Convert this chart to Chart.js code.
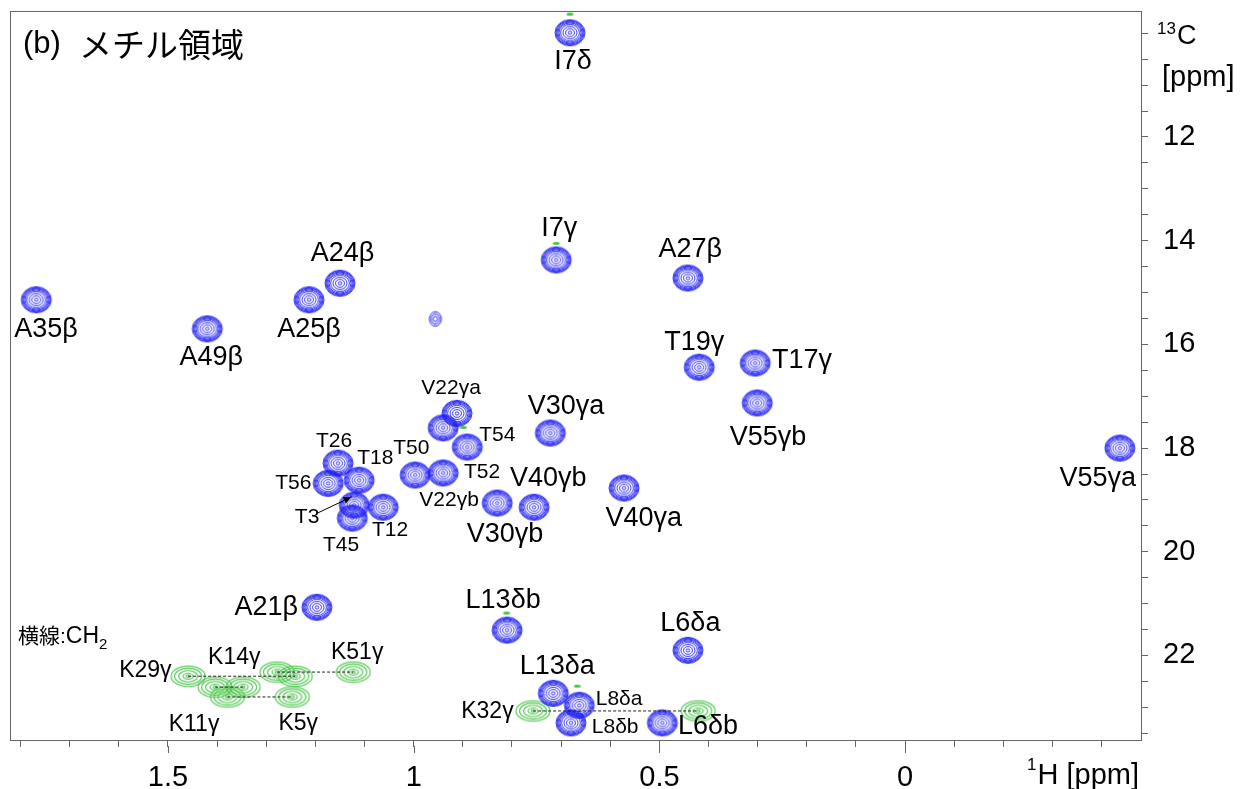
<!DOCTYPE html>
<html>
<head>
<meta charset="utf-8">
<script src="https://cdn.jsdelivr.net/npm/chart.js@4.4.0/dist/chart.umd.min.js"></script>
<style>
  body { margin: 0; background: #fff; }
  #wrap { width: 1242px; height: 789px; }
</style>
</head>
<body>
<div id="wrap"><canvas id="spectrum"></canvas></div>
<script>
// methyl (CH3) cross peaks, 1H / 13C in ppm
const ch3H = [0.682, 0.710, 0.442, 1.150, 1.213, 1.768, 1.420, 0.419, 0.305, 0.301,
              0.722, -0.437, 0.912, 0.940, 0.891, 0.940, 0.997, 1.154, 1.174, 1.111,
              1.121, 1.125, 1.062, 0.830, 0.755, 0.572, 1.197, 0.810, 0.442, 0.716,
              0.663, 0.680, 0.494];
const ch3C = [9.99, 14.37, 14.72, 14.82, 15.14, 15.14, 15.70, 16.44, 16.36, 17.13,
              17.71, 18.00, 17.33, 17.61, 17.98, 18.48, 18.52, 18.29, 18.68, 18.62,
              19.10, 19.35, 19.14, 19.06, 19.14, 18.77, 21.07, 21.51, 21.90, 22.73,
              22.96, 23.30, 23.30];

// weak unassigned peak
const weakH = [0.956];
const weakC = [15.51];

// CH2 peaks (opposite sign), each pair joined by a dashed line
const ch2H1 = [1.459, 1.404, 1.379, 1.278, 0.757];
const ch2H2 = [1.241, 1.347, 1.247, 1.123, 0.421];
const ch2C  = [22.40, 22.61, 22.80, 22.32, 23.07];

// tiny negative specks next to some peaks
const speckH = [0.682, 0.710, 0.811, 0.667, 0.899];
const speckC = [9.63, 14.05, 21.18, 22.59, 17.60];

// assignments: [text, 1H, 13C]
const bigLabels = [
  ['I7δ', 0.676, 10.55], ['I7γ', 0.704, 13.76], ['A27β', 0.437, 14.18],
  ['A24β', 1.145, 14.24], ['A25β', 1.213, 15.72], ['A35β', 1.748, 15.72],
  ['A49β', 1.412, 16.26], ['T19γ', 0.429, 15.97], ['T17γ', 0.210, 16.32],
  ['V55γb', 0.279, 17.79], ['V30γa', 0.690, 17.19], ['V55γa', -0.392, 18.58],
  ['V40γb', 0.726, 18.58], ['V30γb', 0.814, 19.66], ['V40γa', 0.532, 19.35],
  ['A21β', 1.300, 21.07], ['L13δb', 0.818, 20.95], ['L6δa', 0.437, 21.38],
  ['L13δa', 0.708, 22.21], ['L6δb', 0.401, 23.38]
];
const midLabels = [
  ['K32γ', 0.850, 23.09], ['K29γ', 1.546, 22.30], ['K14γ', 1.365, 22.05],
  ['K11γ', 1.447, 23.34], ['K5γ', 1.235, 23.31], ['K51γ', 1.115, 21.94]
];
const smallLabels = [
  ['V22γa', 0.924, 16.84], ['T54', 0.830, 17.75], ['T50', 1.005, 18.00],
  ['T52', 0.861, 18.46], ['V22γb', 0.928, 19.00], ['T26', 1.162, 17.87],
  ['T18', 1.078, 18.19], ['T56', 1.245, 18.68], ['T3', 1.217, 19.33],
  ['T45', 1.148, 19.87], ['T12', 1.048, 19.58], ['L8δa', 0.582, 22.84],
  ['L8δb', 0.590, 23.38]
];
// arrow from the T3 label to its peak: [h0, c0, h1, c1]
const t3Arrow = [1.195, 19.25, 1.126, 18.94];

const hTicks = [1.5, 1, 0.5, 0];
const cTicks = [12, 14, 16, 18, 20, 22];

const FONT = '"Liberation Sans", Arial, "Noto Sans CJK JP", sans-serif';
const BLUE = '#1e1ef5';
const GREEN = '#46c446';

function contourSprite(color, radii, ratio, lw) {
  const c = document.createElement('canvas');
  c.width = Math.ceil(radii[0] * 2 + 4);
  c.height = Math.ceil(radii[0] * ratio * 2 + 4);
  const g = c.getContext('2d');
  g.strokeStyle = color;
  g.lineWidth = lw;
  radii.forEach(r => {
    g.beginPath();
    g.ellipse(c.width / 2, c.height / 2, r, r * ratio, 0, 0, Math.PI * 2);
    g.stroke();
  });
  return c;
}

function speckSprite() {
  const c = document.createElement('canvas');
  c.width = 10; c.height = 5;
  const g = c.getContext('2d');
  g.fillStyle = GREEN;
  g.beginPath();
  g.ellipse(5, 2.5, 3.5, 1.5, 0, 0, Math.PI * 2);
  g.fill();
  return c;
}

const blueSprite = contourSprite(BLUE, [15, 14.1, 13.2, 12.2, 11, 9.4, 7, 4.5, 1.8], 0.87, 0.9);
const weakSprite = contourSprite(BLUE, [6, 4.2, 2.2], 1.2, 1);
const greenSprite = contourSprite(GREEN, [17, 13.5, 9.5, 5, 2], 0.6, 1.1);

const toPts = (hs, cs) => hs.map((h, i) => ({ x: h, y: cs[i] }));

const pairLines = ch2C.map((c, i) => ({
  type: 'line',
  data: [{ x: ch2H1[i], y: c }, { x: ch2H2[i], y: c }],
  borderColor: '#222',
  borderWidth: 1,
  borderDash: [3, 2],
  pointRadius: 0,
  showLine: true,
  order: 0
}));

const annotations = {
  id: 'annotations',
  afterDatasetsDraw(chart) {
    const { ctx, chartArea: a, scales: { x, y } } = chart;
    ctx.save();
    ctx.fillStyle = '#000';
    ctx.textAlign = 'center';
    ctx.textBaseline = 'middle';
    const put = (list, size) => {
      ctx.font = size + 'px ' + FONT;
      list.forEach(([t, h, c]) => ctx.fillText(t, x.getPixelForValue(h), y.getPixelForValue(c)));
    };
    put(bigLabels, 27);
    put(midLabels, 23);
    put(smallLabels, 21);

    // T3 arrow
    const x0 = x.getPixelForValue(t3Arrow[0]), y0 = y.getPixelForValue(t3Arrow[1]);
    const x1 = x.getPixelForValue(t3Arrow[2]), y1 = y.getPixelForValue(t3Arrow[3]);
    ctx.strokeStyle = '#000';
    ctx.lineWidth = 1;
    ctx.beginPath(); ctx.moveTo(x0, y0); ctx.lineTo(x1, y1); ctx.stroke();
    const ang = Math.atan2(y1 - y0, x1 - x0);
    ctx.beginPath();
    ctx.moveTo(x1, y1);
    ctx.lineTo(x1 - 9 * Math.cos(ang - 0.4), y1 - 9 * Math.sin(ang - 0.4));
    ctx.lineTo(x1 - 9 * Math.cos(ang + 0.4), y1 - 9 * Math.sin(ang + 0.4));
    ctx.closePath(); ctx.fill();

    // title and note
    ctx.textAlign = 'left';
    ctx.font = '31px ' + FONT;
    ctx.fillText('(b)', a.left + 13, a.top + 33);
    ctx.font = '33px "Noto Sans CJK JP", sans-serif';
    ctx.fillText('メチル領域', a.left + 69, a.top + 33);
    let cx = a.left + 8;
    const seg = (t, size, dy) => {
      ctx.font = size + 'px ' + FONT;
      ctx.fillText(t, cx, 637 + dy);
      cx += ctx.measureText(t).width;
    };
    seg('横線', 21, 0); seg(':', 21, 0); seg('CH', 23, 0); seg('2', 15, 8);
    ctx.restore();
  }
};

const frame = {
  id: 'frame',
  afterDraw(chart) {
    const { ctx, chartArea: a, scales: { x, y } } = chart;
    ctx.save();
    ctx.strokeStyle = '#666';
    ctx.lineWidth = 1;
    ctx.strokeRect(a.left + 0.5, a.top + 0.5, a.right - a.left, a.bottom - a.top);
    // longer marks on the labelled 1H ticks
    ctx.beginPath();
    hTicks.forEach(h => {
      const px = Math.round(x.getPixelForValue(h)) + 0.5;
      ctx.moveTo(px, a.bottom + 6); ctx.lineTo(px, a.bottom + 13);
    });
    ctx.stroke();

    // axis titles
    ctx.fillStyle = '#000';
    ctx.textBaseline = 'alphabetic';
    ctx.textAlign = 'left';
    const ty = y.getPixelForValue(10);
    ctx.font = '17px ' + FONT;
    ctx.fillText('13', a.right + 16, ty + 1);
    ctx.font = '27px ' + FONT;
    ctx.fillText('C', a.right + 36, ty + 11);
    ctx.font = '29px ' + FONT;
    ctx.fillText('[ppm]', a.right + 21, ty + 53);

    ctx.textAlign = 'right';
    ctx.font = '29px ' + FONT;
    const main = 'H [ppm]';
    ctx.fillText(main, a.right - 2, 784);
    const w = ctx.measureText(main).width;
    ctx.font = '17px ' + FONT;
    ctx.fillText('1', a.right - 3 - w, 770);
    ctx.restore();
  }
};

new Chart(document.getElementById('spectrum'), {
  type: 'scatter',
  data: {
    datasets: [
      ...pairLines,
      { data: toPts(ch3H, ch3C), pointStyle: blueSprite, order: 2 },
      { data: toPts(weakH, weakC), pointStyle: weakSprite, order: 2 },
      { data: toPts(ch2H1.concat(ch2H2), ch2C.concat(ch2C)), pointStyle: greenSprite, order: 3 },
      { data: toPts(speckH, speckC), pointStyle: speckSprite(), order: 3 }
    ]
  },
  options: {
    responsive: true,
    maintainAspectRatio: false,
    animation: false,
    events: [],
    layout: { padding: { left: 10, top: 11, right: 0, bottom: 0 } },
    plugins: { legend: { display: false }, tooltip: { enabled: false } },
    scales: {
      x: {
        type: 'linear', position: 'bottom', min: -0.48, max: 1.8215, reverse: true,
        afterFit: s => { s.height = 49; s.paddingLeft = 0; s.paddingRight = 0; },
        border: { color: '#666', width: 1 },
        grid: { drawOnChartArea: false, drawTicks: true, tickLength: 7, color: '#666' },
        ticks: {
          stepSize: 0.1, includeBounds: false, autoSkip: false, maxRotation: 0,
          padding: 14, color: '#000', font: { family: FONT, size: 29 },
          callback: v => hTicks.includes(v) ? String(v) : ''
        }
      },
      y: {
        type: 'linear', position: 'right', min: 9.57, max: 23.63, reverse: true,
        afterFit: s => { s.width = 101; s.paddingTop = 0; s.paddingBottom = 0; },
        border: { color: '#666', width: 1 },
        grid: { drawOnChartArea: false, drawTicks: true, tickLength: 7, color: '#666' },
        ticks: {
          stepSize: 0.5, includeBounds: false, autoSkip: false,
          padding: 15, color: '#000', font: { family: FONT, size: 29 },
          callback: v => cTicks.includes(v) ? String(v) : ''
        }
      }
    }
  },
  plugins: [annotations, frame]
});
</script>
</body>
</html>
